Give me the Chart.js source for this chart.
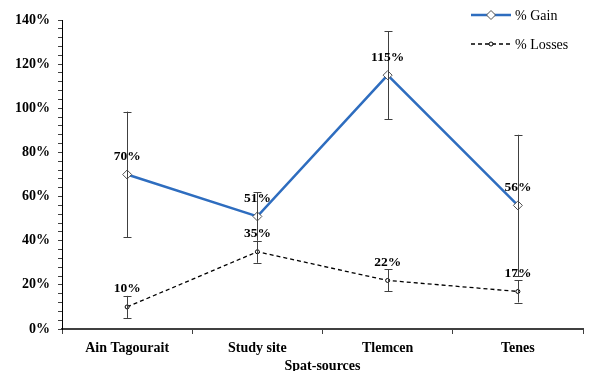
<!DOCTYPE html>
<html>
<head>
<meta charset="utf-8">
<script src="https://cdn.jsdelivr.net/npm/chart.js@4/dist/chart.umd.min.js"></script>
<style>
html,body{margin:0;padding:0;background:#fff;}
#wrap{width:595px;height:371px;}
</style>
</head>
<body>
<div id="wrap"><canvas id="c" width="595" height="371"></canvas></div>
<script>
const categories = ['Ain Tagourait', 'Study site', 'Tlemcen', 'Tenes'];
const gainValues = [70, 51, 115, 56];
const gainErrors = [28.5, 11, 20, 32];
const lossValues = [10, 35, 22, 17];
const lossErrors = [5, 5, 5, 5];
const seriesNames = ['% Gain', '% Losses'];
const yTickMax = 140;
const yMajorStep = 20;
const yMinorStep = 4;
const xTitle = 'Spat-sources';

const FONT = "'Liberation Serif', 'Times New Roman', serif";

const errorBarPlugin = {
  id: 'errbars',
  afterDatasetsDraw(chart) {
    const ctx = chart.ctx;
    const xs = chart.scales.x, ys = chart.scales.y;
    ctx.save();
    ctx.strokeStyle = '#404040';
    ctx.lineWidth = 1;
    chart.data.datasets.forEach(ds => {
      ds.data.forEach((v, i) => {
        const e = ds.errors[i];
        const x = Math.round(xs.getPixelForValue(i)) + 0.5;
        const y1 = ys.getPixelForValue(v + e);
        const y2 = ys.getPixelForValue(v - e);
        ctx.beginPath();
        ctx.moveTo(x, y1); ctx.lineTo(x, y2);
        ctx.moveTo(x - 4, Math.round(y1) + 0.5); ctx.lineTo(x + 4, Math.round(y1) + 0.5);
        ctx.moveTo(x - 4, Math.round(y2) + 0.5); ctx.lineTo(x + 4, Math.round(y2) + 0.5);
        ctx.stroke();
      });
    });
    ctx.restore();
  }
};

const labelPlugin = {
  id: 'labels',
  afterDraw(chart) {
    const ctx = chart.ctx;
    ctx.save();
    ctx.font = "bold 13.5px " + FONT;
    ctx.fillStyle = '#000';
    ctx.textAlign = 'center';
    ctx.textBaseline = 'middle';
    chart.data.datasets.forEach((ds, di) => {
      const meta = chart.getDatasetMeta(di);
      meta.data.forEach((pt, i) => {
        ctx.fillText(ds.data[i] + '%', pt.x, pt.y - 18);
      });
    });
    // legend
    ctx.font = "14px " + FONT;
    ctx.textAlign = 'left';
    const rows = [15, 44];
    chart.data.datasets.forEach((ds, di) => {
      const y = rows[di];
      ctx.strokeStyle = ds.borderColor;
      ctx.lineWidth = ds.borderWidth;
      ctx.setLineDash(ds.borderDash || []);
      ctx.beginPath();
      ctx.moveTo(471, y); ctx.lineTo(511, y);
      ctx.stroke();
      ctx.setLineDash([]);
      ctx.fillStyle = ds.pointBackgroundColor;
      ctx.strokeStyle = ds.pointBorderColor;
      ctx.lineWidth = ds.pointBorderWidth;
      ctx.beginPath();
      if (ds.pointStyle === 'rectRot') {
        const r = ds.pointRadius;
        ctx.moveTo(491, y - r); ctx.lineTo(491 + r, y); ctx.lineTo(491, y + r); ctx.lineTo(491 - r, y); ctx.closePath();
      } else {
        ctx.arc(491, y, ds.pointRadius, 0, Math.PI * 2);
      }
      ctx.fill(); ctx.stroke();
      ctx.fillStyle = '#000';
      ctx.fillText(ds.label, 515, y + 1);
    });
    ctx.restore();
  }
};

new Chart(document.getElementById('c'), {
  type: 'line',
  data: {
    labels: categories,
    datasets: [
      {
        label: seriesNames[0],
        data: gainValues,
        errors: gainErrors,
        borderColor: '#2E6DBF',
        borderWidth: 2.5,
        pointStyle: 'rectRot',
        pointRadius: 4.5,
        pointBackgroundColor: '#fff',
        pointBorderColor: '#505050',
        pointBorderWidth: 1,
        tension: 0
      },
      {
        label: seriesNames[1],
        data: lossValues,
        errors: lossErrors,
        borderColor: '#000',
        borderWidth: 1.3,
        borderDash: [4, 3],
        pointStyle: 'circle',
        pointRadius: 2,
        pointBackgroundColor: '#fff',
        pointBorderColor: '#000',
        pointBorderWidth: 1,
        tension: 0
      }
    ]
  },
  options: {
    responsive: false,
    animation: false,
    layout: { padding: { left: 0, right: 12, top: 20, bottom: 0 } },
    plugins: { legend: { display: false }, tooltip: { enabled: false } },
    scales: {
      x: {
        offset: true,
        grid: { offset: true, drawOnChartArea: false, drawTicks: true, tickLength: 5, color: '#404040' },
        border: { display: true, color: '#404040', width: 2 },
        ticks: { color: '#000', font: { family: FONT, size: 14, weight: 'bold' }, padding: 6, maxRotation: 0 },
        title: { display: true, text: xTitle, color: '#000', font: { family: FONT, size: 14, weight: 'bold' }, padding: { top: 2, bottom: -4 } },
        afterFit(s) { s.height = 42; }
      },
      y: {
        min: 0, max: yTickMax,
        grid: { drawOnChartArea: false, drawTicks: true, tickLength: 4, color: '#404040' },
        border: { display: true, color: '#000', width: 1 },
        ticks: {
          stepSize: yMinorStep, autoSkip: false, color: '#000', padding: 8,
          font: { family: FONT, size: 14, weight: 'bold' },
          callback: v => (v % yMajorStep === 0 ? v + '%' : '')
        },
        afterFit(s) { s.width = 62; }
      }
    }
  },
  plugins: [errorBarPlugin, labelPlugin]
});
</script>
</body>
</html>
